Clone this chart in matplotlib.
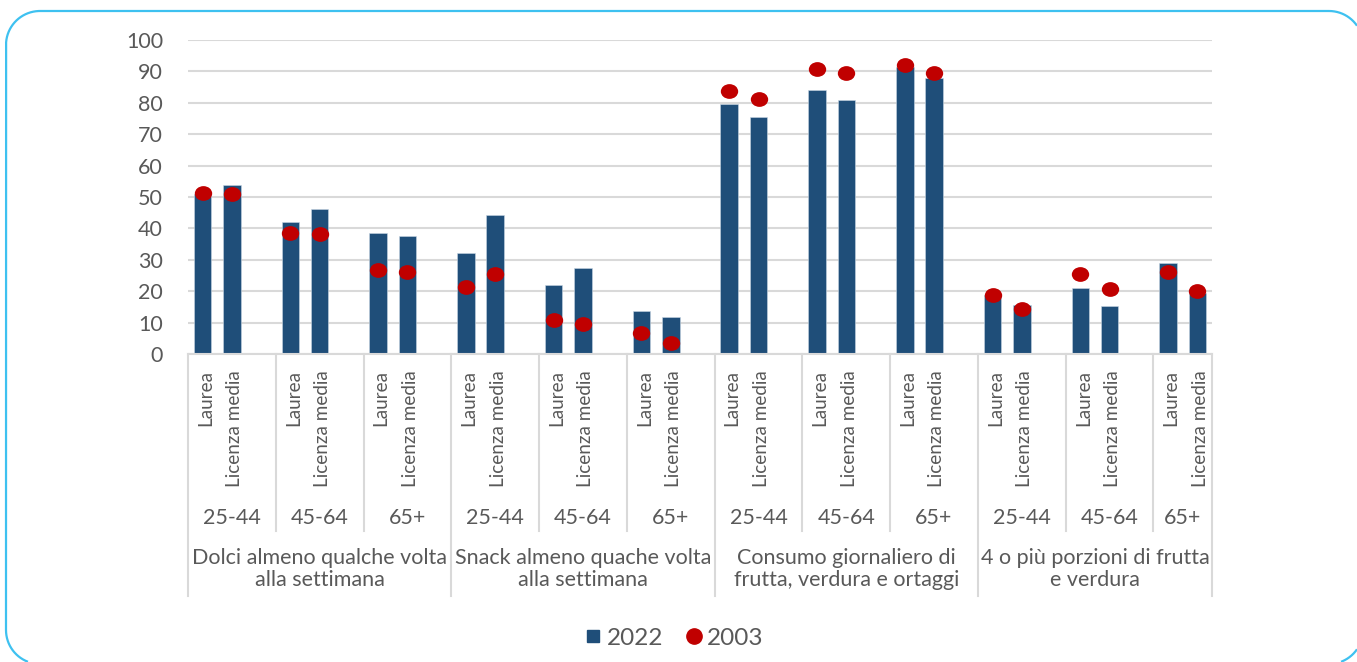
import matplotlib
matplotlib.use("Agg")
import matplotlib.pyplot as plt
import numpy as np
from matplotlib.lines import Line2D
from matplotlib.path import Path
from matplotlib.transforms import Affine2D, Bbox

plt.rcParams['font.family'] = ['Lato', 'DejaVu Sans']

# ---- data ----
indicators = ["Dolci almeno qualche volta\nalla settimana",
              "Snack almeno quache volta\nalla settimana",
              "Consumo giornaliero di\nfrutta, verdura e ortaggi",
              "4 o più porzioni di frutta\ne verdura"]
age_groups = ["25-44", "45-64", "65+"]
education = ["Laurea", "Licenza media"]

# 2022 values, order: indicator -> age group -> (Laurea, Licenza media)
val_2022 = [51.0, 53.7, 42.1, 46.1, 38.6, 37.7,
            32.3, 44.2, 21.9, 27.5, 13.8, 11.9,
            79.6, 75.6, 84.0, 80.8, 91.5, 87.9,
            18.7, 15.5, 21.1, 15.2, 29.1, 19.4]
# 2003 values, same order
val_2003 = [51.4, 51.0, 38.6, 38.2, 26.6, 26.2,
            21.4, 25.4, 10.7, 9.6, 6.8, 3.6,
            83.7, 81.2, 90.8, 89.6, 91.9, 89.6,
            18.7, 14.2, 25.5, 20.7, 26.2, 20.0]

bar_color = "#1F4E79"
dot_color = "#C00000"
text_color = "#595959"
grid_color = "#D9D9D9"

W, H = 1357, 662
fig = plt.figure(figsize=(W / 100, H / 100), dpi=100)

# background axes in pixel units, holds the rounded frame
bg = fig.add_axes([0, 0, 1, 1])
bg.set_xlim(0, W)
bg.set_ylim(H, 0)
bg.axis("off")


def rounded_outline(x0, y0, x1, y1, r, n=40):
    pts = []
    corners = [(x1 - r, y0 + r, -90, 0), (x1 - r, y1 - r, 0, 90),
               (x0 + r, y1 - r, 90, 180), (x0 + r, y0 + r, 180, 270)]
    for cx, cy, a0, a1 in corners:
        t = np.radians(np.linspace(a0, a1, n))
        pts.append(np.column_stack([cx + r * np.cos(t), cy + r * np.sin(t)]))
    pts = np.vstack(pts + [pts[0][:1]])
    # drop the parts that fall outside the canvas
    out = (pts[:, 0] > W) | (pts[:, 1] > H)
    pts[out] = np.nan
    return pts


outline = rounded_outline(6, 11, 1363, 664, 34)
bg.plot(outline[:, 0], outline[:, 1], color="#3EC1F0", linewidth=1.6,
        solid_capstyle="butt")

ax_left, ax_right, ax_top, ax_bottom = 188, 1212, 40, 354
ax = fig.add_axes([ax_left / W, (H - ax_bottom) / H,
                   (ax_right - ax_left) / W, (ax_bottom - ax_top) / H])
ax.set_facecolor("none")

# slot positions: 3 slots per age group (third left empty), last group has 2
n_groups = len(indicators) * len(age_groups)
xs = []
for g in range(n_groups):
    for e in range(len(education)):
        xs.append(3 * g + e)
xs = np.array(xs)
n_slots = 3 * n_groups - 1

ax.bar(xs, val_2022, width=0.6, color=bar_color, zorder=2,
       edgecolor="#C9D6E3", linewidth=0.4)

ellipse = Path.unit_circle().transformed(Affine2D().scale(1.0, 0.85))
ax.plot(xs, val_2003, linestyle="none", marker=ellipse, markersize=12.5,
        color=dot_color, markeredgewidth=0, zorder=3)

ax.set_xlim(-0.5, n_slots - 0.5)
ax.set_ylim(0, 100)
ax.set_yticks(np.arange(0, 101, 10))
ax.yaxis.grid(True, color=grid_color, linewidth=1.5)
ax.set_axisbelow(True)
ax.tick_params(axis="y", length=0, pad=18, labelsize=15.5, labelcolor=text_color)
ax.set_xticks([])
for s in ["top", "right", "left"]:
    ax.spines[s].set_visible(False)
ax.spines["bottom"].set_color(grid_color)
ax.spines["bottom"].set_linewidth(1.5)

ph = ax_bottom - ax_top


def ypos(pix):
    return (ax_bottom - pix) / ph


# rotated education labels
for i, x in enumerate(xs):
    ax.text(x + 0.1, ypos(370), education[i % 2], rotation=90, ha="center",
            va="top", fontsize=13.6, color=text_color, clip_on=False,
            transform=ax.get_xaxis_transform())

# age group labels and dividers
for g in range(n_groups):
    start = 3 * g - 0.5
    end = min(3 * g + 2.5, n_slots - 0.5)
    ax.text((start + end) / 2, ypos(518), age_groups[g % 3], ha="center",
            va="center", fontsize=15.5, color=text_color, clip_on=False,
            transform=ax.get_xaxis_transform())

bounds = [3 * g - 0.5 for g in range(n_groups)] + [n_slots - 0.5]
for k, b in enumerate(bounds):
    low = 596 if k % 3 == 0 or k == len(bounds) - 1 else 531
    ax.add_line(Line2D([b, b], [0, ypos(low)], color=grid_color, linewidth=1.5,
                       transform=ax.get_xaxis_transform(), clip_on=False))

# indicator labels
for i, name in enumerate(indicators):
    start = 9 * i - 0.5
    end = min(9 * i + 8.5, n_slots - 0.5)
    ax.text((start + end) / 2, ypos(569), name, ha="center", va="center",
            fontsize=15.5, color=text_color, linespacing=1.15,
            transform=ax.get_xaxis_transform(), clip_on=False)

handles = [Line2D([], [], linestyle="none", marker="s", markersize=9,
                  color=bar_color, label="2022"),
           Line2D([], [], linestyle="none", marker="o", markersize=11,
                  color=dot_color, label="2003")]
fig.legend(handles=handles, loc="center", bbox_to_anchor=(673 / W, (H - 638) / H),
           ncol=2, frameon=False, fontsize=17.5, labelcolor=text_color,
           handletextpad=0.1, columnspacing=0.8, handlelength=0.9)

fig.savefig("out.png", dpi=100, bbox_inches=Bbox.from_bounds(0, 0, W / 100, H / 100))
